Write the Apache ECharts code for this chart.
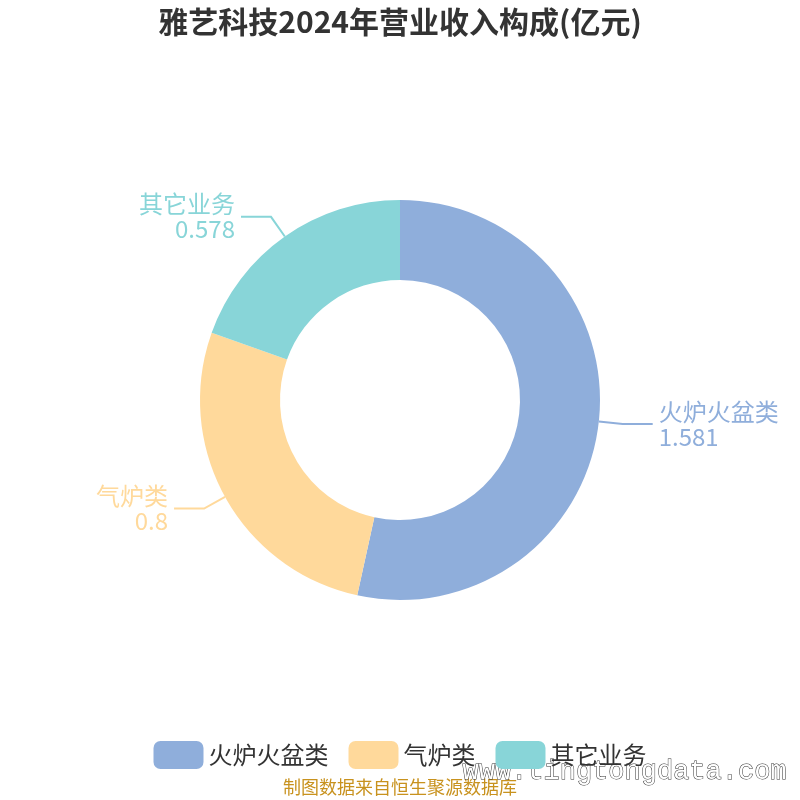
<!DOCTYPE html>
<html>
<head>
<meta charset="utf-8">
<script src="https://cdn.jsdelivr.net/npm/echarts@6/dist/echarts.min.js"></script>
<style>
  html, body { margin: 0; padding: 0; background: #fff; }
  #root { width: 800px; height: 800px; }
</style>
</head>
<body>
<div id="root"></div>
<script>
var categories = ['火炉火盆类', '气炉类', '其它业务'];
var values = [1.581, 0.8, 0.578];
var colors = ['#8FAEDB', '#FFD99B', '#88D5D8'];

var chart = echarts.init(document.getElementById('root'));

var pieData = categories.map(function (name, i) {
  return {
    name: name,
    value: values[i],
    itemStyle: { color: colors[i] },
    label: { color: colors[i] },
    labelLine: { lineStyle: { color: colors[i] } }
  };
});

var option = {
  backgroundColor: '#fff',
  title: {
    text: '雅艺科技2024年营业收入构成(亿元)',
    left: 'center',
    top: 2,
    textStyle: { fontSize: 30, fontWeight: 'bold', color: '#333', fontFamily: 'Noto Sans CJK SC' }
  },
  legend: {
    bottom: 26,
    left: 'center',
    itemWidth: 50,
    itemHeight: 28,
    itemGap: 20,
    icon: 'roundRect',
    textStyle: { fontSize: 24, color: '#333', fontFamily: 'Noto Sans CJK SC' },
    data: categories
  },
  series: [
    {
      type: 'pie',
      center: ['50%', '50%'],
      radius: ['30%', '50%'],
      startAngle: 90,
      clockwise: true,
      avoidLabelOverlap: true,
      label: {
        show: true,
        formatter: '{b}\n{c}',
        fontSize: 24,
        lineHeight: 25,
        distanceToLabelLine: 6,
        fontFamily: 'Noto Sans CJK SC'
      },
      labelLine: { show: true, length: 24, length2: 30, smooth: false, lineStyle: { width: 2 } },
      emphasis: { disabled: true },
      data: pieData
    }
  ],
  graphic: [
    {
      type: 'text',
      left: 'center',
      top: 778,
      style: {
        text: '制图数据来自恒生聚源数据库',
        fontSize: 18,
        fill: '#C8921E',
        fontFamily: 'Noto Sans CJK SC'
      }
    },
    {
      type: 'text',
      left: 462,
      top: 758,
      style: {
        text: 'www.tingtongdata.com',
        fontSize: 27,
        fontFamily: 'Liberation Mono',
        fill: '#fff',
        stroke: '#333',
        lineWidth: 1
      }
    }
  ]
};

chart.setOption(option);
</script>
</body>
</html>
